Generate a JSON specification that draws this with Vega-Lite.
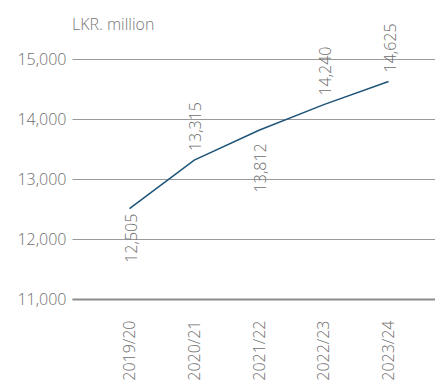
{
  "$schema": "https://vega.github.io/schema/vega-lite/v6.json",
  "autosize": "none",
  "width": 363,
  "height": 240,
  "padding": {"left": 72, "top": 59, "right": 0, "bottom": 82},
  "background": "white",
  "title": {"text": "LKR. million", "anchor": "start", "frame": "group", "font": "Open Sans", "fontWeight": 300, "fontSize": 16, "color": "#777777", "baseline": "alphabetic", "offset": -23},
  "config": {"view": {"stroke": null}, "font": "Open Sans"},
  "data": {"values": [
    {"year": "2019/20", "value": 12505},
    {"year": "2020/21", "value": 13315},
    {"year": "2021/22", "value": 13812},
    {"year": "2022/23", "value": 14240},
    {"year": "2023/24", "value": 14625}
  ]},
  "encoding": {
    "x": {"field": "year", "type": "ordinal", "sort": null,
      "scale": {"type": "point", "padding": 0.803, "align": 0.553},
      "axis": {"title": null, "labelAngle": 270, "labelAlign": "right", "labelBaseline": "middle", "labelPadding": 21, "labelFont": "Open Sans", "labelFontWeight": 300, "labelFontSize": 16, "labelColor": "#6e6e6e", "ticks": false, "grid": false, "domain": true, "domainColor": "#8c8c8c", "domainWidth": 2}},
    "y": {"field": "value", "type": "quantitative",
      "scale": {"domain": [11000, 15000], "nice": false, "zero": false},
      "axis": {"title": null, "values": [11000, 12000, 13000, 14000, 15000], "format": ",d", "domain": false, "ticks": false, "labelPadding": 6, "labelFont": "Open Sans", "labelFontWeight": 300, "labelFontSize": 16, "labelColor": "#6e6e6e", "gridColor": "#9a9a9a", "gridWidth": 1, "gridOpacity": 1}}
  },
  "layer": [
    {"mark": {"type": "line", "color": "#1d5478", "strokeWidth": 1.5, "clip": false}},
    {"transform": [{"filter": "datum.year == '2020/21' || datum.year == '2022/23' || datum.year == '2023/24'"}],
     "mark": {"type": "text", "angle": 270, "align": "left", "baseline": "middle", "dx": 9, "dy": 2, "font": "Open Sans", "fontWeight": 300, "fontSize": 16, "color": "#6e6e6e"},
     "encoding": {"text": {"field": "value", "type": "quantitative", "format": ",d"}}},
    {"transform": [{"filter": "datum.year == '2019/20'"}],
     "mark": {"type": "text", "angle": 270, "align": "right", "baseline": "middle", "dx": -5, "dy": 2, "font": "Open Sans", "fontWeight": 300, "fontSize": 16, "color": "#6e6e6e"},
     "encoding": {"text": {"field": "value", "type": "quantitative", "format": ",d"}}},
    {"transform": [{"filter": "datum.year == '2021/22'"}],
     "mark": {"type": "text", "angle": 270, "align": "right", "baseline": "middle", "dx": -13, "dy": 2, "font": "Open Sans", "fontWeight": 300, "fontSize": 16, "color": "#6e6e6e"},
     "encoding": {"text": {"field": "value", "type": "quantitative", "format": ",d"}}}
  ]
}
